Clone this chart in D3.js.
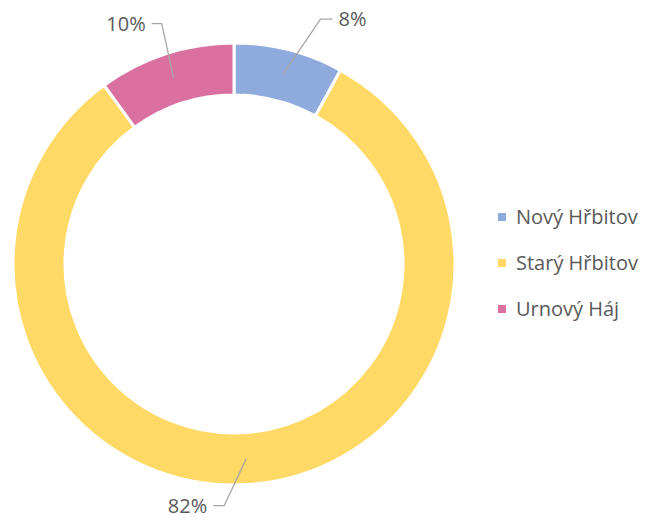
<!DOCTYPE html>
<html>
<head>
<meta charset="utf-8">
<script src="https://cdn.jsdelivr.net/npm/d3@7"></script>
<style>
  body { margin: 0; background: #fff; }
  text { font-family: "Open Sans", Lato, sans-serif; fill: #595959; }
</style>
</head>
<body>
<div id="chart"></div>
<script>
// data
const categories = ["Nový Hřbitov", "Starý Hřbitov", "Urnový Háj"];
const values = [8, 82, 10];
const colors = ["#8faadc", "#ffd966", "#d9709f"];

const width = 645, height = 520;
const cx = 234, cy = 264;
const outerR = 221, innerR = 169;

const svg = d3.select("#chart").append("svg")
    .attr("width", width)
    .attr("height", height);

const g = svg.append("g")
    .attr("transform", "translate(" + cx + "," + cy + ")");

const data = categories.map((c, i) => ({ name: c, value: values[i], color: colors[i] }));
const total = d3.sum(values);

const pie = d3.pie().sort(null).value(d => d.value);
const arcs = pie(data);

const arc = d3.arc().innerRadius(innerR).outerRadius(outerR);
const midArc = d3.arc().innerRadius((innerR + outerR) / 2).outerRadius((innerR + outerR) / 2);

g.selectAll(".slice")
    .data(arcs)
    .enter()
    .append("path")
    .attr("class", "slice")
    .attr("d", arc)
    .attr("fill", d => d.data.color)
    .attr("stroke", "#fff")
    .attr("stroke-width", 3);

// label placement: elbow offsets relative to centroid (layout only)
const labelLayout = {
    "Nový Hřbitov":  { ex: 38,  ey: -56, hx: 12,  anchor: "start" },
    "Starý Hřbitov": { ex: -22, ey: 47,  hx: -11, anchor: "end" },
    "Urnový Háj":    { ex: -12, ey: -55, hx: -10, anchor: "end" }
};

arcs.forEach(d => {
    const c = midArc.centroid(d);
    const L = labelLayout[d.data.name];
    const elbow = [c[0] + L.ex, c[1] + L.ey];
    const end = [elbow[0] + L.hx, elbow[1]];
    g.append("polyline")
        .attr("points", [c, elbow, end].map(p => p.join(",")).join(" "))
        .attr("fill", "none")
        .attr("stroke", "#a6a6a6")
        .attr("stroke-width", 1.3);
    g.append("text")
        .attr("x", end[0] + (L.anchor === "start" ? 6 : -6))
        .attr("y", end[1])
        .attr("dy", "0.35em")
        .attr("text-anchor", L.anchor)
        .style("font-size", "20px")
        .text(Math.round(d.data.value / total * 100) + "%");
});

// legend
const legend = svg.append("g")
    .attr("transform", "translate(498,217)");

const item = legend.selectAll(".item")
    .data(data)
    .enter()
    .append("g")
    .attr("class", "item")
    .attr("transform", (d, i) => "translate(0," + i * 46 + ")");

item.append("rect")
    .attr("x", 0)
    .attr("y", -4)
    .attr("width", 8)
    .attr("height", 8)
    .attr("fill", d => d.color);

item.append("text")
    .attr("x", 18)
    .attr("y", 0)
    .attr("dy", "0.35em")
    .style("font-size", "20px")
    .text(d => d.name);
</script>
</body>
</html>
